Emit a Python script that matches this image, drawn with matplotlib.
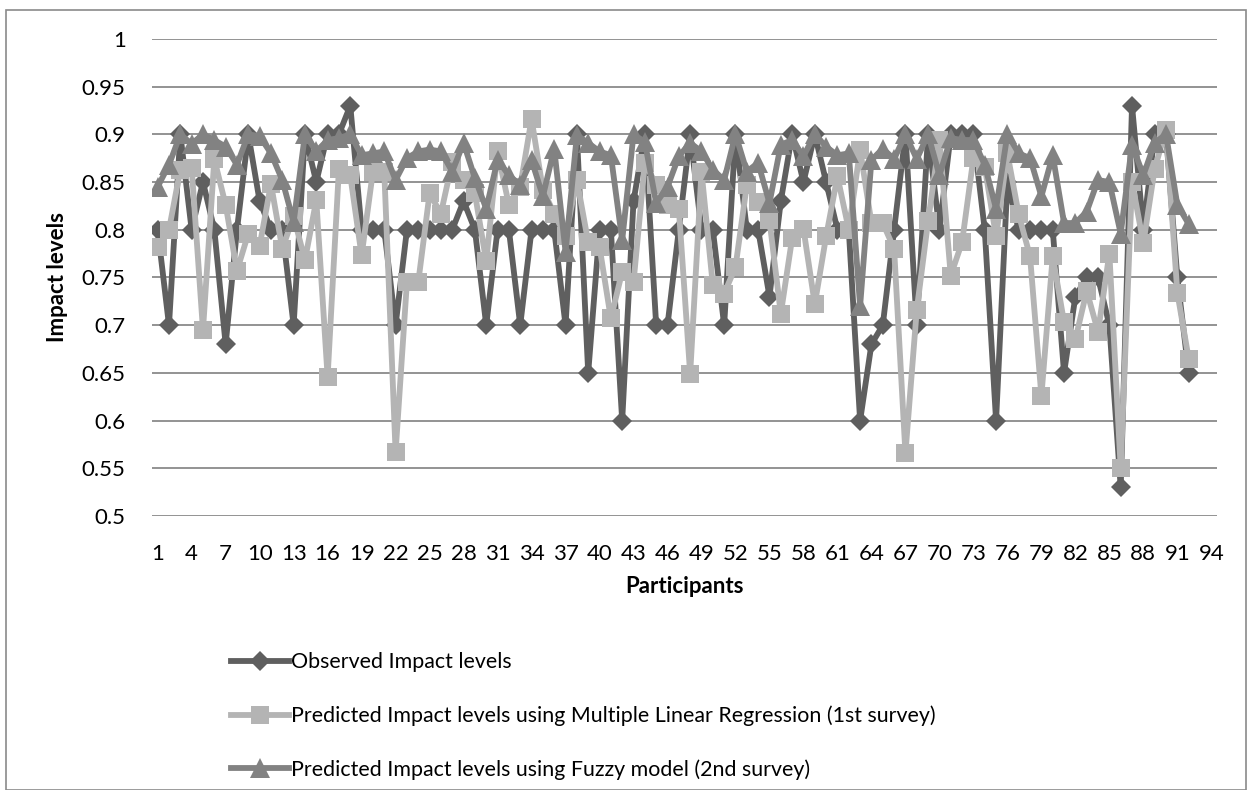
import matplotlib
matplotlib.use("Agg")
import matplotlib.pyplot as plt
from matplotlib.lines import Line2D
from matplotlib.patches import Rectangle

plt.rcParams['font.family'] = ['Lato', 'DejaVu Sans']

# Impact levels per participant
observed = [0.8, 0.7, 0.9, 0.8, 0.85, 0.8, 0.68, 0.8, 0.9, 0.83,
            0.8, 0.8, 0.7, 0.9, 0.85, 0.9, 0.9, 0.93, 0.8, 0.8,
            0.8, 0.7, 0.8, 0.8, 0.8, 0.8, 0.8, 0.83, 0.8, 0.7,
            0.8, 0.8, 0.7, 0.8, 0.8, 0.8, 0.7, 0.9, 0.65, 0.8,
            0.8, 0.6, 0.83, 0.9, 0.7, 0.7, 0.8, 0.9, 0.8, 0.8,
            0.7, 0.9, 0.8, 0.8, 0.73, 0.83, 0.9, 0.85, 0.9, 0.85,
            0.8, 0.8, 0.6, 0.68, 0.7, 0.8, 0.9, 0.7, 0.9, 0.8,
            0.9, 0.9, 0.9, 0.8, 0.6, 0.85, 0.8, 0.8, 0.8, 0.8,
            0.65, 0.73, 0.75, 0.75, 0.7, 0.53, 0.93, 0.8, 0.9, 0.9,
            0.75, 0.65]

mlr = [0.782, 0.8, 0.863, 0.865, 0.695, 0.874, 0.826, 0.757, 0.796, 0.783,
       0.848, 0.78, 0.814, 0.768, 0.831, 0.646, 0.864, 0.857, 0.773, 0.861,
       0.861, 0.567, 0.745, 0.745, 0.838, 0.817, 0.871, 0.852, 0.838, 0.767,
       0.882, 0.826, 0.845, 0.916, 0.842, 0.817, 0.793, 0.852, 0.787, 0.782,
       0.707, 0.756, 0.745, 0.87, 0.847, 0.826, 0.822, 0.649, 0.861, 0.742,
       0.733, 0.761, 0.847, 0.829, 0.81, 0.712, 0.791, 0.801, 0.722, 0.793,
       0.856, 0.8, 0.884, 0.807, 0.807, 0.78, 0.566, 0.716, 0.809, 0.894,
       0.752, 0.787, 0.875, 0.866, 0.793, 0.88, 0.816, 0.772, 0.626, 0.772,
       0.703, 0.685, 0.736, 0.693, 0.775, 0.55, 0.85, 0.786, 0.864, 0.905,
       0.734, 0.665]

fuzzy = [0.845, 0.868, 0.9, 0.89, 0.9, 0.894, 0.887, 0.868, 0.9, 0.898,
         0.88, 0.852, 0.808, 0.9, 0.882, 0.894, 0.896, 0.9, 0.878, 0.88,
         0.882, 0.852, 0.875, 0.882, 0.884, 0.882, 0.861, 0.891, 0.854, 0.822,
         0.873, 0.857, 0.847, 0.873, 0.835, 0.885, 0.777, 0.899, 0.891, 0.882,
         0.878, 0.789, 0.9, 0.892, 0.828, 0.845, 0.877, 0.891, 0.882, 0.863,
         0.852, 0.9, 0.861, 0.87, 0.828, 0.889, 0.894, 0.877, 0.9, 0.887,
         0.878, 0.88, 0.72, 0.873, 0.885, 0.874, 0.9, 0.874, 0.9, 0.857,
         0.896, 0.894, 0.894, 0.868, 0.822, 0.9, 0.88, 0.875, 0.835, 0.878,
         0.807, 0.807, 0.819, 0.852, 0.85, 0.796, 0.889, 0.857, 0.891, 0.9,
         0.826, 0.806]

labels = ["Observed Impact levels",
          "Predicted Impact levels using Multiple Linear Regression (1st survey)",
          "Predicted Impact levels using Fuzzy model (2nd survey)"]
colors = ["#5f5f5f", "#b4b4b4", "#828282"]
markers = ["D", "s", "^"]
msizes = [10, 13, 14]

participants = list(range(1, len(observed) + 1))
xticks = list(range(1, 95, 3))
yticks = [0.5 + 0.05 * k for k in range(11)]

fig = plt.figure(figsize=(12.5, 7.9), dpi=100)
ax = fig.add_axes([0.1216, 0.3468, 0.852, 0.604])

for k, ys in enumerate([observed, mlr, fuzzy]):
    ax.plot(participants, ys, color=colors[k], lw=4.2, marker=markers[k],
            markersize=msizes[k], markeredgewidth=0, zorder=3 + k)

ax.set_xlim(0.5, 94.5)
ax.set_ylim(0.5, 1.0)
ax.set_yticks(yticks)
ax.set_yticklabels(["%g" % round(v, 2) for v in yticks])
ax.set_xticks(xticks)
ax.set_xticklabels([str(v) for v in xticks])
ax.tick_params(axis="y", length=0, pad=19, labelsize=16)
ax.tick_params(axis="x", length=0, pad=20, labelsize=16)
ax.grid(axis="y", color="#8a8a8a", lw=1.3, zorder=1)
for s in ax.spines.values():
    s.set_visible(False)

ax.set_xlabel("Participants", fontsize=16, fontweight="bold", labelpad=9)
ax.set_ylabel("Impact levels", fontsize=16, fontweight="bold", labelpad=10)

handles = [Line2D([], [], color=colors[k], lw=4.2, marker=markers[k],
                  markersize=msizes[k], markeredgewidth=0) for k in range(3)]
fig.legend(handles, labels, loc="upper left", bbox_to_anchor=(0.178, 0.185),
           frameon=False, fontsize=15.4, handlelength=2.7, handletextpad=0.1,
           labelspacing=1.55, borderaxespad=0)

fig.patches.append(Rectangle((6 / 1250, 0), 1240 / 1250, 780 / 790,
                             transform=fig.transFigure, fill=False,
                             edgecolor="#8a8a8a", lw=1.2))

fig.savefig("out.png", dpi=100)
